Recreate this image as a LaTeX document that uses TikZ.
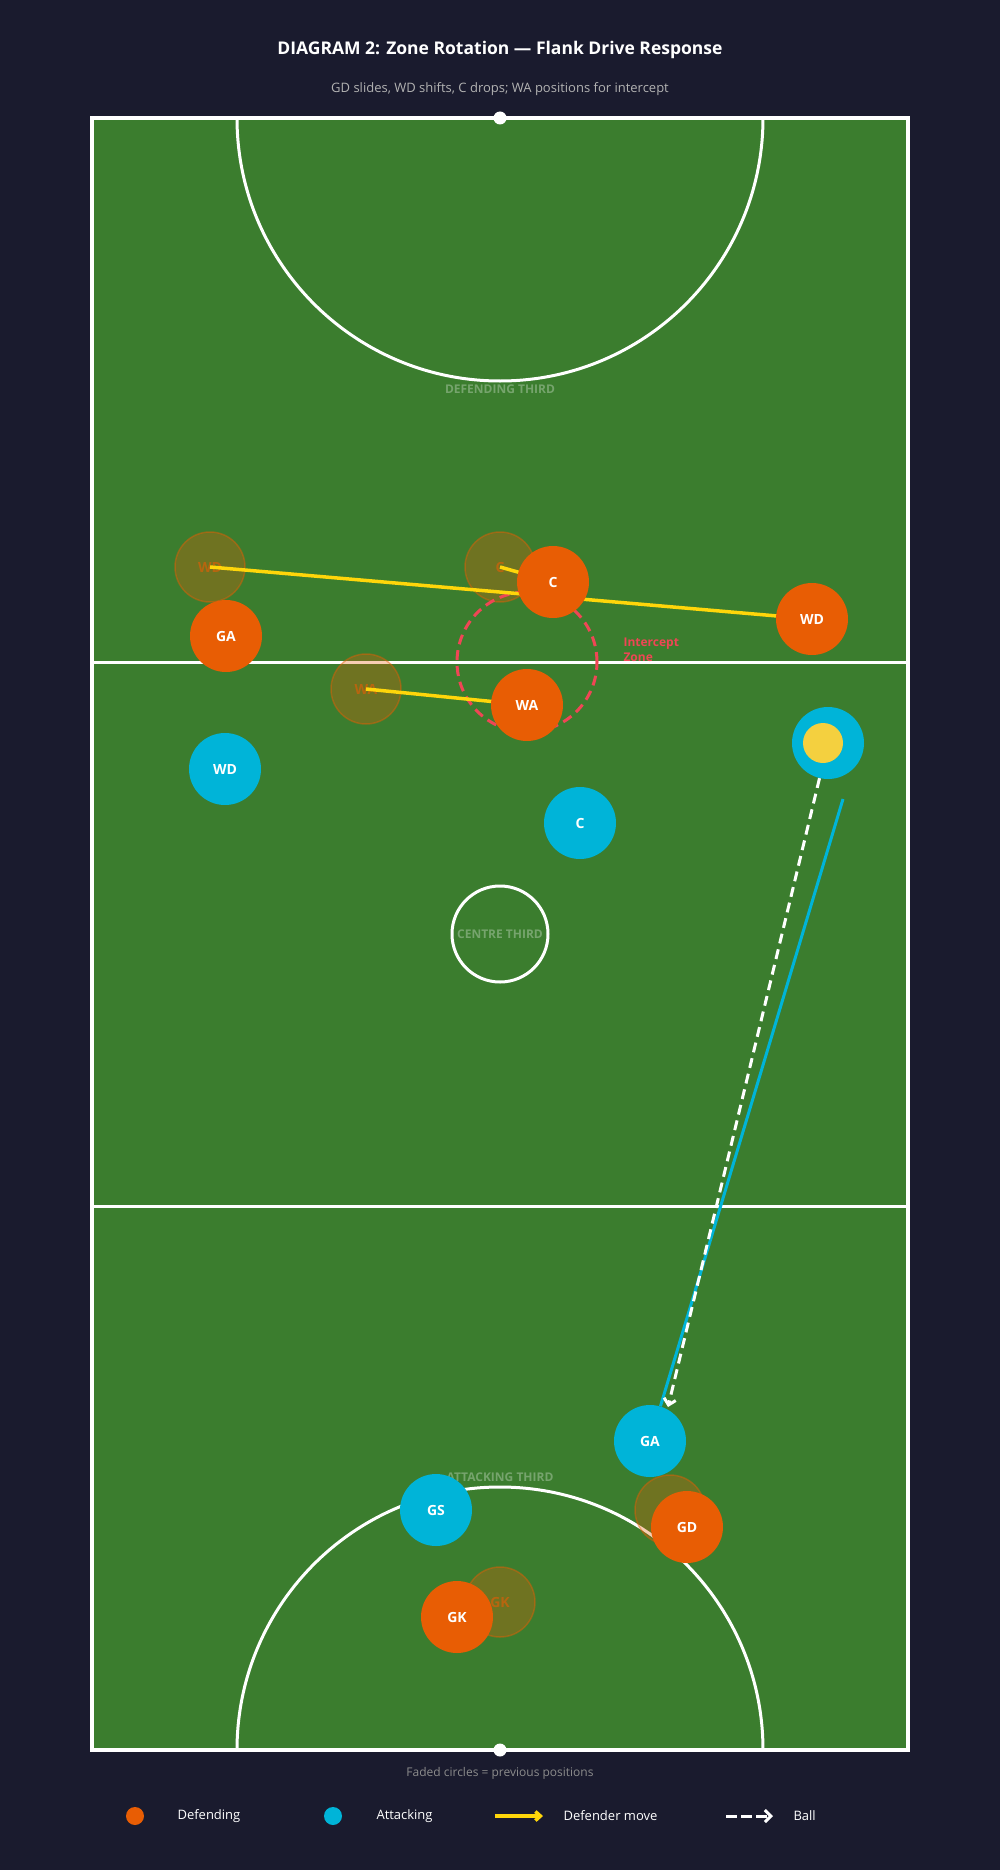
\documentclass[tikz,border=0pt]{standalone}
\usepackage{fontspec}
\setmainfont{Open Sans}
\usetikzlibrary{arrows.meta}

\definecolor{bgnavy}{HTML}{1A1B2E}
\definecolor{courtgreen}{HTML}{3B7D2E}
\definecolor{defcol}{HTML}{E85D04}
\definecolor{attcol}{HTML}{00B4D8}
\definecolor{movecol}{HTML}{FFD60A}
\definecolor{ballcol}{HTML}{F4D03F}
\definecolor{zonecol}{HTML}{EF4655}

\tikzset{
  player/.style={circle,minimum size=72pt,inner sep=0pt,text=white,
    font=\bfseries\fontsize{14}{16}\selectfont},
  def/.style={player,fill=defcol},
  att/.style={player,fill=attcol},
  oldpos/.style={circle,minimum size=70pt,inner sep=0pt,fill=defcol,fill opacity=0.3,
    draw=defcol,draw opacity=0.45,line width=1.5pt,text=defcol,text opacity=0.6,
    font=\bfseries\fontsize{14}{16}\selectfont},
  move/.style={movecol,line width=3.5pt,-{Straight Barb[length=5pt,width=9pt]}},
  ballpass/.style={white,line width=3pt,dash pattern=on 10pt off 6pt,
    -{Straight Barb[length=6pt,width=12pt]}},
  courtline/.style={white,line width=3pt},
  thirdlabel/.style={text=white,text opacity=0.3,font=\bfseries\fontsize{12}{14}\selectfont},
  legtext/.style={text=white,anchor=west,font=\fontsize{13}{15}\selectfont}
}

\begin{document}
\begin{tikzpicture}[x=1pt,y=-1pt]
\fill[bgnavy] (0,0) rectangle (1000,1870);
\useasboundingbox (0,0) rectangle (1000,1870);

\node[text=white,font=\bfseries\fontsize{17.5}{20}\selectfont] (title) at (500,50)
  {DIAGRAM 2: Zone Rotation — Flank Drive Response};
\node[text=black!30,font=\fontsize{13}{15}\selectfont] (subtitle) at (500,89)
  {GD slides, WD shifts, C drops; WA positions for intercept};

% court
\fill[courtgreen] (92,118) rectangle (908,1750);
\begin{scope}
\clip (92,118) rectangle (908,1750);
\draw[courtline] (500,118) circle[radius=263];
\draw[courtline] (500,1750) circle[radius=263];
\end{scope}
\draw[courtline] (92,662) -- (908,662);
\draw[courtline] (92,1206) -- (908,1206);
\draw[courtline] (500,934) circle[radius=48];
\draw[white,line width=4.5pt] (92,118) rectangle (908,1750);
\fill[white] (500,118) circle[radius=6.5];
\fill[white] (500,1750) circle[radius=6.5];

\node[thirdlabel] (defthird) at (500,389) {DEFENDING THIRD};
\node[thirdlabel] (centhird) at (500,934) {CENTRE THIRD};
\node[thirdlabel] (attthird) at (500,1477) {ATTACKING THIRD};

% previous positions
\node[oldpos] (oWD) at (210,567) {WD};
\node[oldpos] (oC) at (500,567) {C};
\node[oldpos] (oWA) at (366,689) {WA};
\node[oldpos] (oGD) at (670,1510) {GD};
\node[oldpos] (oGK) at (500,1602) {GK};

\node[circle,minimum size=140pt,draw=zonecol,line width=3pt,dash pattern=on 10pt off 6pt] (zone) at (527,662) {};
\node[text=zonecol,anchor=west,align=left,font=\bfseries\fontsize{12}{15}\selectfont] (zonetext) at (620,650)
  {Intercept\\Zone};

\draw[move] (oWD.center) -- (812,619);
\draw[move] (oC.center) -- (553,582);
\draw[move] (oWA.center) -- (527,705);

% defenders
\node[def] (C) at (553,582) {C};
\node[def] (WD) at (812,619) {WD};
\node[def] (GA) at (226,636) {GA};
\node[def] (WA) at (527,705) {WA};
\node[def] (GD) at (687,1527) {GD};
\node[def] (GK) at (457,1617) {GK};

% attackers
\node[att] (aWD) at (225,769) {WD};
\node[att] (aC) at (580,823) {C};
\node[att] (carrier) at (828,743) {};
\node[circle,minimum size=40pt,inner sep=0pt,fill=ballcol] (ball) at (823,743) {};
\node[att] (aGA) at (650,1441) {GA};
\node[att] (GS) at (436,1510) {GS};

\coordinate (lead) at (843,799);
\coordinate (passend) at (668,1407);
\draw[attcol,line width=3pt] (lead) -- (aGA);
\draw[ballpass] (carrier) -- (passend);

% legend
\node[text=black!45,font=\fontsize{12}{14}\selectfont] (note) at (500,1773)
  {Faded circles = previous positions};
\node[circle,minimum size=18pt,inner sep=0pt,fill=defcol] (legdef) at (135,1816) {};
\node[legtext] (legdeftext) at (174,1816) {Defending};
\node[circle,minimum size=18pt,inner sep=0pt,fill=attcol] (legatt) at (333,1816) {};
\node[legtext] (legatttext) at (373,1816) {Attacking};
\coordinate (legmoveA) at (495,1816);
\coordinate (legmoveB) at (543,1816);
\draw[move] (legmoveA) -- (legmoveB);
\node[legtext] (legmovetext) at (560,1816) {Defender move};
\coordinate (legballA) at (726,1816);
\coordinate (legballB) at (773,1816);
\draw[ballpass,dash pattern=on 11pt off 4pt] (legballA) -- (legballB);
\node[legtext] (legballtext) at (790,1816) {Ball};
\end{tikzpicture}
\end{document}
